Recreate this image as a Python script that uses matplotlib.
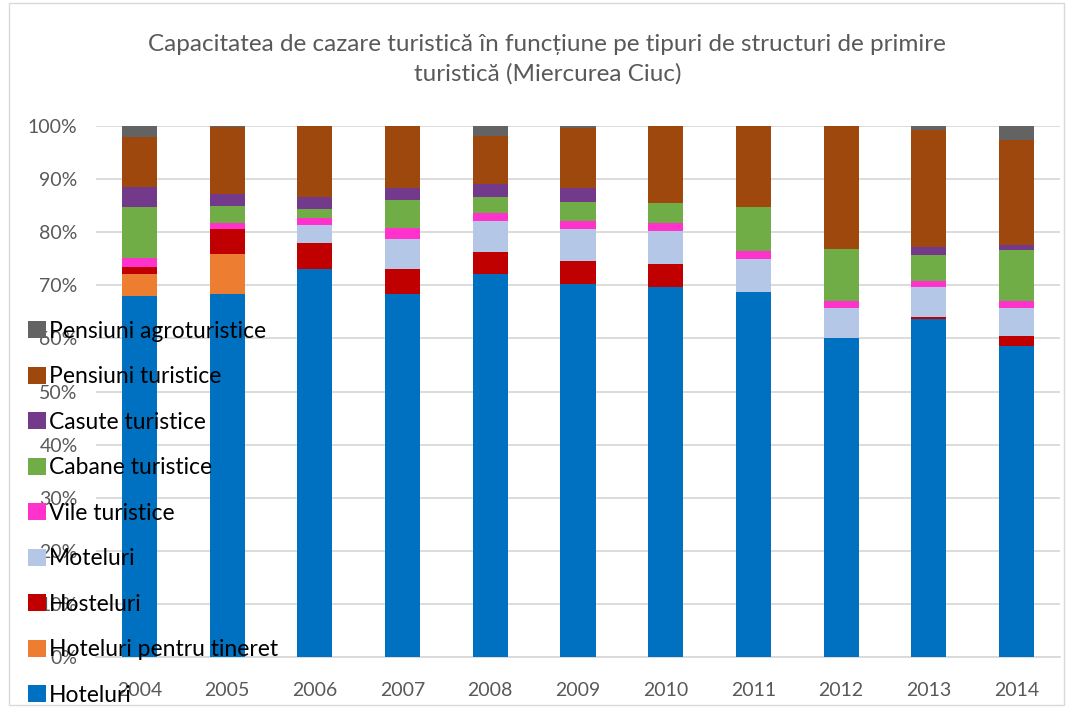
import numpy as np
import matplotlib.pyplot as plt
from matplotlib.patches import Rectangle

plt.rcParams['font.family'] = ['Lato', 'DejaVu Sans']

# ***** DATA (percent share of capacity) *****
years = ['2004', '2005', '2006', '2007', '2008', '2009', '2010', '2011', '2012', '2013', '2014']

hoteluri         = [68.0, 68.4, 73.1, 68.4, 72.1, 70.3, 69.7, 68.8, 60.0, 63.6, 58.5]
hoteluri_tineret = [4.1, 7.5, 0.0, 0.0, 0.0, 0.0, 0.0, 0.0, 0.0, 0.0, 0.0]
hosteluri        = [1.4, 4.8, 4.9, 4.6, 4.1, 4.3, 4.3, 0.0, 0.0, 0.5, 2.0]
moteluri         = [0.0, 0.0, 3.4, 5.8, 5.9, 6.05, 6.2, 6.15, 5.8, 5.6, 5.2]
vile             = [1.6, 1.1, 1.3, 2.05, 1.45, 1.45, 1.5, 1.55, 1.2, 1.2, 1.3]
cabane           = [9.6, 3.1, 1.7, 5.25, 3.05, 3.65, 3.8, 8.3, 9.8, 4.8, 9.6]
casute           = [3.75, 2.3, 2.3, 2.2, 2.5, 2.55, 0.0, 0.0, 0.0, 1.45, 1.05]
pensiuni         = [9.45, 12.55, 13.3, 11.7, 9.0, 11.3, 14.5, 15.2, 23.2, 22.05, 19.65]
agroturistice    = [2.1, 0.25, 0.0, 0.0, 1.9, 0.4, 0.0, 0.0, 0.0, 0.8, 2.7]

series = [
    ('Hoteluri', hoteluri, '#0070C0'),
    ('Hoteluri pentru tineret', hoteluri_tineret, '#ED7D31'),
    ('Hosteluri', hosteluri, '#C00000'),
    ('Moteluri', moteluri, '#B4C7E7'),
    ('Vile turistice', vile, '#FF33CC'),
    ('Cabane turistice', cabane, '#70AD47'),
    ('Casute turistice', casute, '#733A8C'),
    ('Pensiuni turistice', pensiuni, '#9E480E'),
    ('Pensiuni agroturistice', agroturistice, '#636363'),
]

# ***** PLOT *****
fig = plt.figure(figsize=(10.71, 7.08), dpi=100)
ax = fig.add_axes([0.0893, 0.072, 0.9007, 0.750])

x = np.arange(len(years))
bottom = np.zeros(len(years))
handles = []
for name, vals, color in series:
    vals = np.array(vals)
    b = ax.bar(x, vals, 0.4, bottom=bottom, color=color, label=name, zorder=3)
    handles.append(b)
    bottom += vals

ax.set_xlim(-0.5, len(years) - 0.5)
ax.set_ylim(0, 100)
ax.set_yticks(np.arange(0, 101, 10))
ax.set_yticklabels([f'{v}%' for v in range(0, 101, 10)])
ax.set_xticks(x)
ax.set_xticklabels(years)
ax.tick_params(axis='both', length=0, labelsize=14, labelcolor='#595959')
ax.tick_params(axis='y', pad=13)
ax.tick_params(axis='x', pad=18)
ax.grid(axis='y', color='#D9D9D9', linewidth=1.3, zorder=0)
for s in ['top', 'right', 'left']:
    ax.spines[s].set_visible(False)
ax.spines['bottom'].set_color('#D9D9D9')
ax.spines['bottom'].set_linewidth(1.3)

fig.suptitle('Capacitatea de cazare turistică în funcțiune pe tipuri de structuri de primire\nturistică (Miercurea Ciuc)',
             x=0.511, y=0.952, fontsize=17.5, color='#595959', linespacing=1.45)

# legend overlays the left side of the chart, like the original
fig.legend(handles[::-1], [s[0] for s in series][::-1], loc='upper left',
           bbox_to_anchor=(0.018, 0.56), frameon=False, fontsize=16.5,
           handlelength=0.75, handleheight=0.75, handletextpad=0.15,
           labelspacing=1.07, borderaxespad=0)

# chart border
fig.patches.append(Rectangle((0.008, 0.004), 0.985, 0.992, transform=fig.transFigure,
                             fill=False, edgecolor='#D9D9D9', linewidth=1))

fig.savefig('out.png', dpi=100)
